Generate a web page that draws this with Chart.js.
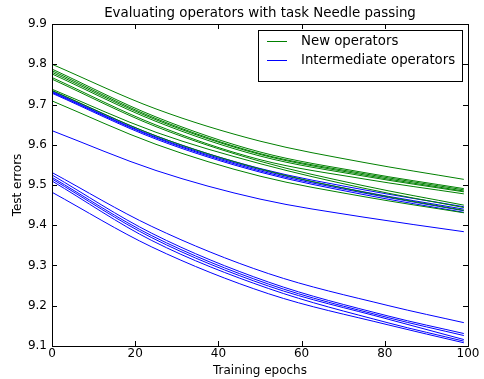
<!DOCTYPE html>
<html>
<head>
<meta charset="utf-8">
<script src="https://cdn.jsdelivr.net/npm/chart.js@4.4.0/dist/chart.umd.min.js"></script>
<style>
  html, body { margin: 0; padding: 0; background: #ffffff; }
  #wrap { width: 484px; height: 379px; }
</style>
</head>
<body>
<div id="wrap"><canvas id="grafico"></canvas></div>
<script>
// Dados
const titleText = 'Evaluating operators with task Needle passing';
const xLabel = 'Training epochs';
const yLabel = 'Test errors';
const legendLabels = ['New operators', 'Intermediate operators'];

const upperEpochs = [0, 25, 50, 75, 99];
const lowerEpochs = [0, 24, 52, 81, 99];

const newOperators = [
   [9.800, 9.689, 9.609, 9.556, 9.514],
   [9.788, 9.669, 9.582, 9.531, 9.491],
   [9.784, 9.665, 9.578, 9.528, 9.488],
   [9.780, 9.662, 9.576, 9.525, 9.485],
   [9.776, 9.658, 9.572, 9.522, 9.483],
   [9.767, 9.649, 9.563, 9.515, 9.478],
   [9.763, 9.645, 9.559, 9.498, 9.450],
   [9.738, 9.631, 9.553, 9.492, 9.444],
   [9.735, 9.622, 9.540, 9.482, 9.437],
   [9.709, 9.601, 9.522, 9.471, 9.431]
];

const intermediateUpper = [
   [9.734, 9.622, 9.541, 9.488, 9.446],
   [9.732, 9.619, 9.538, 9.483, 9.440],
   [9.730, 9.617, 9.535, 9.480, 9.436],
   [9.728, 9.614, 9.532, 9.476, 9.432],
   [9.635, 9.536, 9.465, 9.420, 9.384]
];

const intermediateLower = [
   [9.531, 9.397, 9.280, 9.200, 9.158],
   [9.525, 9.380, 9.259, 9.174, 9.131],
   [9.519, 9.374, 9.254, 9.170, 9.126],
   [9.515, 9.369, 9.249, 9.166, 9.116],
   [9.510, 9.362, 9.243, 9.157, 9.112],
   [9.482, 9.346, 9.230, 9.152, 9.108]
];

const xTicks = [0, 20, 40, 60, 80, 100];
const yTicks = [9.1, 9.2, 9.3, 9.4, 9.5, 9.6, 9.7, 9.8, 9.9];

const green = '#008000';
const blue = '#0000ff';
const fonte = 'DejaVu Sans';

function serie(epochs, values, cor) {
   return {
      type: 'line',
      data: epochs.map((e, i) => ({ x: e, y: values[i] })),
      borderColor: cor,
      backgroundColor: cor,
      borderWidth: 1,
      pointRadius: 0,
      cubicInterpolationMode: 'monotone',
      fill: false
   };
}

const datasets = []
   .concat(newOperators.map(v => serie(upperEpochs, v, green)))
   .concat(intermediateUpper.map(v => serie(upperEpochs, v, blue)))
   .concat(intermediateLower.map(v => serie(lowerEpochs, v, blue)));

// Moldura, ticks para dentro, titulo e legenda (estilo matplotlib)
const molduraPlugin = {
   id: 'moldura',
   afterDraw(chart) {
      const ctx = chart.ctx;
      const a = chart.chartArea;
      const xs = chart.scales.x;
      const ys = chart.scales.y;
      ctx.save();
      ctx.strokeStyle = '#000000';
      ctx.lineWidth = 1;
      ctx.strokeRect(Math.round(a.left) + 0.5, Math.round(a.top) + 0.5,
         Math.round(a.right - a.left), Math.round(a.bottom - a.top));
      ctx.beginPath();
      xTicks.forEach(t => {
         const px = Math.round(xs.getPixelForValue(t)) + 0.5;
         ctx.moveTo(px, a.bottom); ctx.lineTo(px, a.bottom - 5);
         ctx.moveTo(px, a.top); ctx.lineTo(px, a.top + 5);
      });
      yTicks.forEach(t => {
         const py = Math.round(ys.getPixelForValue(t)) + 0.5;
         ctx.moveTo(a.left, py); ctx.lineTo(a.left + 5, py);
         ctx.moveTo(a.right, py); ctx.lineTo(a.right - 5, py);
      });
      ctx.stroke();

      // titulo
      ctx.fillStyle = '#000000';
      ctx.font = '13.4px "' + fonte + '"';
      ctx.textAlign = 'center';
      ctx.textBaseline = 'bottom';
      ctx.fillText(titleText, (a.left + a.right) / 2, a.top - 4);

      // legenda
      const lx = 258, ly = 30, lw = 204, lh = 51;
      ctx.fillStyle = '#ffffff';
      ctx.fillRect(lx, ly, lw, lh);
      ctx.strokeStyle = '#000000';
      ctx.strokeRect(lx + 0.5, ly + 0.5, lw, lh);
      const cores = [green, blue];
      legendLabels.forEach((txt, i) => {
         const y = ly + 11 + i * 19;
         ctx.strokeStyle = cores[i];
         ctx.beginPath();
         ctx.moveTo(267, y + 0.5); ctx.lineTo(287, y + 0.5);
         ctx.stroke();
         ctx.fillStyle = '#000000';
         ctx.font = '13.3px "' + fonte + '"';
         ctx.textAlign = 'left';
         ctx.textBaseline = 'middle';
         ctx.fillText(txt, 301, y + 1);
      });
      ctx.restore();
   }
};

const grafico = document.getElementById('grafico').getContext('2d');
const chart = new Chart(grafico, {
   type: 'line',
   data: { datasets },
   options: {
      responsive: true,
      maintainAspectRatio: false,
      animation: false,
      layout: { padding: { left: 11, right: 16, top: 24, bottom: 0 } },
      plugins: {
         legend: { display: false },
         tooltip: { enabled: false },
         title: { display: false }
      },
      scales: {
         x: {
            type: 'linear',
            min: 0,
            max: 100,
            afterFit: (s) => { s.height = 33; },
            afterBuildTicks: (s) => { s.ticks = xTicks.map(v => ({ value: v })); },
            grid: { display: false, drawTicks: false },
            border: { display: false },
            ticks: {
               color: '#000000',
               padding: 1,
               maxRotation: 0,
               autoSkip: false,
               font: { family: fonte, size: 12 },
               callback: v => String(v)
            },
            title: {
               display: true,
               text: xLabel,
               color: '#000000',
               padding: { top: 0, bottom: 1 },
               font: { family: fonte, size: 12 }
            }
         },
         y: {
            type: 'linear',
            min: 9.1,
            max: 9.9,
            afterFit: (s) => { s.width = 41; },
            afterBuildTicks: (s) => { s.ticks = yTicks.map(v => ({ value: v })); },
            grid: { display: false, drawTicks: false },
            border: { display: false },
            ticks: {
               color: '#000000',
               padding: 5,
               autoSkip: false,
               font: { family: fonte, size: 12 },
               callback: v => Number(v).toFixed(1)
            },
            title: {
               display: true,
               text: yLabel,
               color: '#000000',
               padding: { top: 0, bottom: 4 },
               font: { family: fonte, size: 12 }
            }
         }
      }
   },
   plugins: [molduraPlugin]
});
</script>
</body>
</html>
